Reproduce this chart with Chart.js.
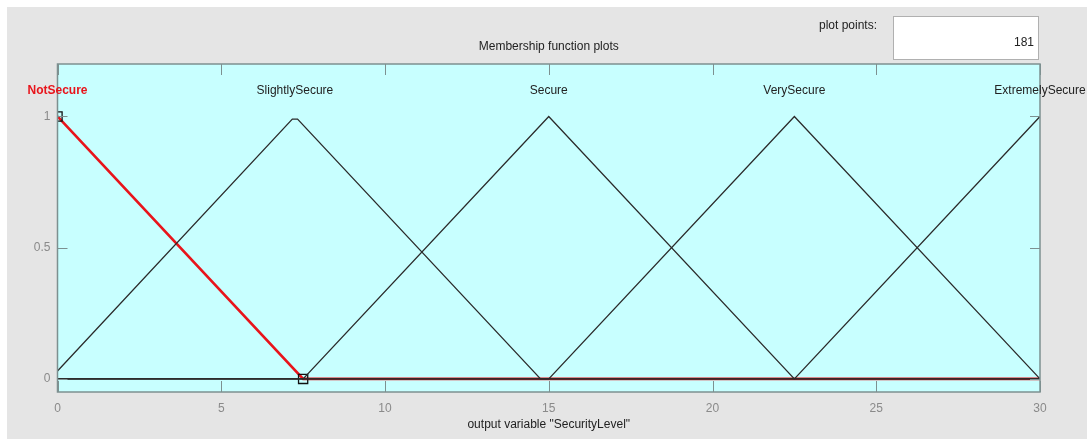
<!DOCTYPE html>
<html>
<head>
<meta charset="utf-8">
<script src="https://cdn.jsdelivr.net/npm/chart.js@4/dist/chart.umd.min.js"></script>
<style>
html,body{margin:0;padding:0;background:#fff;}
#wrap{width:1087px;height:439px;position:relative;}
</style>
</head>
<body>
<div id="wrap"><canvas id="c" width="1087" height="439"></canvas></div>
<script>
// ---- data ----
const mfNames = ["NotSecure", "SlightlySecure", "Secure", "VerySecure", "ExtremelySecure"];
const mfLabelX = [0, 7.25, 15, 22.5, 30];
const notSecureX = [0, 7.5, 30];
const notSecureY = [1, 0, 0];
const slightlyX = [0, 7.17, 7.33, 14.75, 30];
const slightlyY = [0.03, 0.99, 0.99, 0, 0];
const secureX = [0, 7.5, 15, 22.5, 30];
const secureY = [0, 0, 1, 0, 0];
const veryX = [0, 15, 22.5, 30];
const veryY = [0, 0, 1, 0];
const extremeX = [0, 22.5, 30];
const extremeY = [0, 0, 1];
const xTicks = [0, 5, 10, 15, 20, 25, 30];
const yTicks = [0, 0.5, 1];
const yTickLabels = ["0", "0.5", "1"];
const plotPoints = "181";
const titleText = "Membership function plots";
const xLabelText = 'output variable "SecurityLevel"';

const FONT = "'Liberation Sans Narrow', 'Liberation Sans', Arial, sans-serif";
const pts = (xs, ys) => xs.map((x, i) => ({x: x, y: ys[i]}));

const blackLine = (xs, ys) => ({
  data: pts(xs, ys), showLine: true, borderColor: '#2b2b2b', borderWidth: 1.3,
  pointRadius: 0, tension: 0, fill: false
});

const bgPlugin = {
  id: 'bg',
  beforeDraw(chart) {
    const ctx = chart.ctx, a = chart.chartArea;
    ctx.save();
    ctx.fillStyle = '#ffffff';
    ctx.fillRect(0, 0, chart.width, chart.height);
    ctx.fillStyle = '#e5e5e5';
    ctx.fillRect(7, 7, chart.width - 7, chart.height - 7);
    ctx.fillStyle = '#c8ffff';
    ctx.fillRect(a.left, a.top, a.right - a.left, a.bottom - a.top);
    ctx.restore();
  },
  afterDraw(chart) {
    const ctx = chart.ctx, a = chart.chartArea;
    const xs = chart.scales.x, ys = chart.scales.y;
    ctx.save();
    // border
    ctx.strokeStyle = '#7d9090';
    ctx.lineWidth = 1.5;
    ctx.strokeRect(a.left, a.top, a.right - a.left, a.bottom - a.top);
    // inward ticks
    ctx.beginPath();
    xTicks.forEach(v => {
      const px = Math.round(xs.getPixelForValue(v)) + 0.5;
      ctx.moveTo(px, a.bottom); ctx.lineTo(px, a.bottom - 11);
      ctx.moveTo(px, a.top); ctx.lineTo(px, a.top + 11);
    });
    yTicks.forEach(v => {
      const py = Math.round(ys.getPixelForValue(v)) + 0.5;
      ctx.moveTo(a.left, py); ctx.lineTo(a.left + 10, py);
      ctx.moveTo(a.right, py); ctx.lineTo(a.right - 10, py);
    });
    ctx.lineWidth = 1;
    ctx.stroke();
    // MF labels
    ctx.textAlign = 'center';
    ctx.textBaseline = 'middle';
    mfNames.forEach((n, i) => {
      ctx.fillStyle = i === 0 ? '#e8141b' : '#222';
      ctx.font = (i === 0 ? 'bold ' : '') + '12px ' + FONT;
      ctx.fillText(n, xs.getPixelForValue(mfLabelX[i]), ys.getPixelForValue(1.1));
    });
    // title
    ctx.font = '12px ' + FONT;
    ctx.fillStyle = '#222';
    ctx.fillText(titleText, (a.left + a.right) / 2, 47);
    ctx.fillText(xLabelText, (a.left + a.right) / 2, 425);
    // plot points box
    ctx.textAlign = 'right';
    ctx.fillText('plot points:', 877, 26);
    ctx.fillStyle = '#ffffff';
    ctx.fillRect(893, 16, 145, 43);
    ctx.strokeStyle = '#b0b0b0';
    ctx.lineWidth = 1;
    ctx.strokeRect(893.5, 16.5, 145, 43);
    ctx.fillStyle = '#222';
    ctx.fillText(plotPoints, 1034, 43);
    ctx.restore();
  }
};

new Chart(document.getElementById('c'), {
  type: 'scatter',
  data: {
    datasets: [
      blackLine(slightlyX, slightlyY),
      blackLine(secureX, secureY),
      blackLine(veryX, veryY),
      blackLine(extremeX, extremeY),
      {
        data: pts(notSecureX, notSecureY), showLine: true, borderColor: '#e8141b',
        borderWidth: 2.6, tension: 0, fill: false,
        pointStyle: 'rect', pointRadius: [6.5, 6.5, 0], pointBorderColor: '#111',
        pointBackgroundColor: 'rgba(0,0,0,0)', pointBorderWidth: 1.3
      }
    ]
  },
  options: {
    responsive: false, animation: false, events: [],
    layout: {padding: {left: 0, top: 64, right: 47, bottom: 0}},
    plugins: {legend: {display: false}, tooltip: {enabled: false}},
    scales: {
      x: {
        type: 'linear', min: 0, max: 30,
        afterBuildTicks: s => { s.ticks = xTicks.map(v => ({value: v})); },
        afterFit: s => { s.height = 47; },
        grid: {display: false, drawTicks: false},
        border: {display: false},
        ticks: {color: '#8a8a8a', font: {family: FONT, size: 12}, padding: 9, maxRotation: 0}
      },
      y: {
        type: 'linear', min: -0.05, max: 1.2,
        afterBuildTicks: s => { s.ticks = yTicks.map(v => ({value: v})); },
        afterFit: s => { s.width = 57.5; },
        grid: {display: false, drawTicks: false},
        border: {display: false},
        ticks: {
          color: '#8a8a8a', font: {family: FONT, size: 12}, padding: 7,
          callback: (v) => { const i = yTicks.indexOf(v); return i >= 0 ? yTickLabels[i] : ''; }
        }
      }
    }
  },
  plugins: [bgPlugin]
});
</script>
</body>
</html>
